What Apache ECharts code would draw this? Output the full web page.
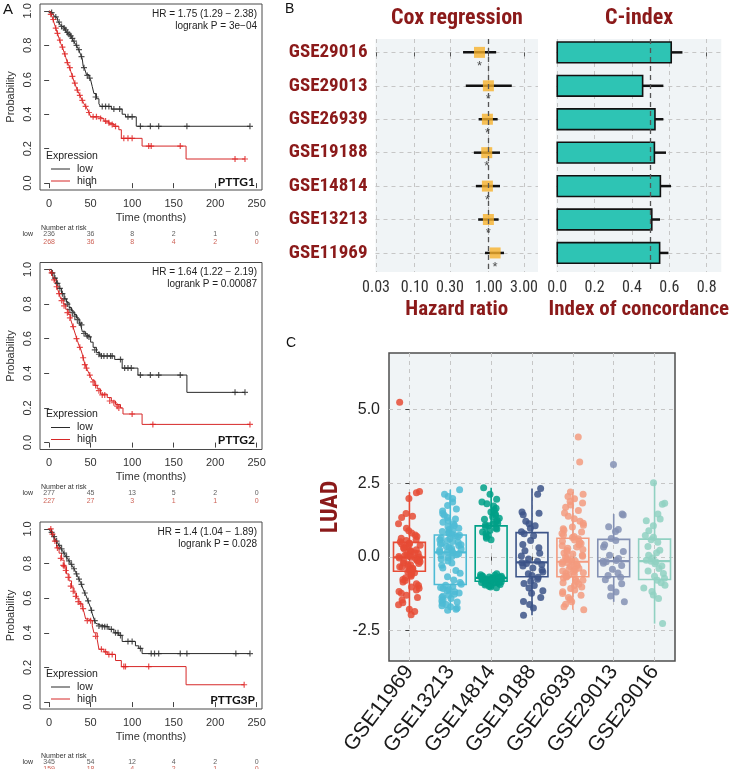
<!DOCTYPE html>
<html><head><meta charset="utf-8">
<script src="https://cdn.jsdelivr.net/npm/echarts@6/dist/echarts.min.js"></script>
<style>html,body{margin:0;padding:0;background:#fff}#c{width:730px;height:769px}</style>
</head><body><div id="c"></div>
<script>
// ---------------- DATA ----------------
const TIME_TICKS = [0, 50, 100, 150, 200, 250];
const PROB_TICKS = [0, 0.2, 0.4, 0.6, 0.8, 1.0];

// PTTG1
const km1Low = [[0,1],[2,0.99],[4,0.98],[6,0.97],[8,0.96],[10,0.945],[12,0.93],[14,0.915],[16,0.905],[18,0.895],[20,0.885],[22,0.87],[24,0.86],[26,0.85],[28,0.835],[30,0.82],[32,0.805],[34,0.79],[36,0.77],[38,0.745],[40,0.72],[41,0.68],[43,0.66],[45,0.63],[48,0.615],[50,0.6],[52,0.56],[54,0.52],[57,0.49],[60,0.46],[62,0.445],[75,0.43],[88,0.4],[92,0.385],[105,0.33],[242,0.33]];
const km1LowCens = [[3,0.99],[8,0.965],[12,0.935],[15,0.91],[18,0.9],[20,0.89],[22,0.875],[24,0.865],[26,0.855],[28,0.84],[30,0.825],[33,0.8],[36,0.775],[39,0.735],[42,0.67],[46,0.625],[49,0.61],[56,0.5],[64,0.445],[68,0.445],[72,0.445],[78,0.43],[85,0.43],[95,0.385],[100,0.385],[110,0.33],[122,0.33],[132,0.33],[166,0.33],[242,0.33]];
const km1High = [[0,1],[2,0.98],[4,0.96],[6,0.93],[8,0.9],[10,0.87],[12,0.84],[14,0.81],[16,0.79],[18,0.76],[20,0.73],[22,0.7],[24,0.68],[26,0.65],[28,0.62],[30,0.59],[32,0.565],[34,0.54],[36,0.52],[38,0.5],[40,0.48],[42,0.46],[44,0.445],[46,0.43],[48,0.41],[50,0.385],[60,0.375],[66,0.36],[72,0.345],[78,0.33],[84,0.31],[87,0.26],[112,0.215],[165,0.14],[236,0.14]];
const km1HighCens = [[2,0.98],[5,0.95],[8,0.9],[10,0.87],[13,0.83],[16,0.79],[19,0.75],[22,0.7],[25,0.67],[28,0.62],[31,0.58],[34,0.54],[37,0.51],[40,0.48],[44,0.445],[48,0.41],[53,0.385],[57,0.385],[62,0.375],[68,0.36],[72,0.35],[76,0.34],[80,0.33],[90,0.26],[95,0.26],[100,0.26],[120,0.215],[123,0.215],[158,0.215],[224,0.14],[236,0.14]];
const risk1Low = [236, 36, 8, 2, 1, 0];
const risk1High = [268, 36, 8, 4, 2, 0];

// PTTG2
const km2Low = [[0,1],[3,0.98],[6,0.95],[9,0.92],[12,0.89],[15,0.86],[18,0.83],[21,0.81],[24,0.78],[27,0.76],[30,0.74],[33,0.72],[36,0.7],[38,0.68],[40,0.64],[44,0.62],[47,0.61],[50,0.58],[53,0.55],[57,0.52],[61,0.5],[79,0.48],[88,0.43],[107,0.39],[166,0.29],[236,0.29]];
const km2LowCens = [[4,0.98],[7,0.95],[10,0.92],[13,0.89],[16,0.86],[19,0.83],[22,0.8],[25,0.77],[28,0.75],[31,0.73],[34,0.71],[37,0.69],[39,0.68],[42,0.63],[46,0.615],[48,0.61],[55,0.535],[60,0.51],[63,0.5],[66,0.5],[70,0.5],[74,0.5],[76,0.5],[86,0.48],[91,0.43],[95,0.43],[99,0.43],[110,0.39],[122,0.39],[132,0.39],[158,0.39],[224,0.29],[236,0.29]];
const km2High = [[0,1],[2,0.98],[4,0.96],[6,0.94],[8,0.92],[10,0.89],[12,0.86],[14,0.83],[17,0.8],[20,0.77],[23,0.74],[26,0.71],[28,0.68],[30,0.65],[32,0.62],[34,0.59],[36,0.56],[38,0.54],[40,0.51],[42,0.47],[44,0.44],[46,0.42],[48,0.4],[50,0.38],[52,0.36],[55,0.33],[58,0.31],[62,0.28],[70,0.26],[75,0.24],[80,0.22],[86,0.2],[89,0.165],[112,0.105],[242,0.105]];
const km2HighCens = [[3,0.98],[6,0.94],[9,0.9],[12,0.86],[15,0.82],[18,0.79],[22,0.75],[25,0.72],[29,0.67],[33,0.6],[37,0.55],[41,0.49],[43,0.45],[45,0.43],[49,0.39],[53,0.35],[56,0.33],[60,0.3],[64,0.275],[67,0.275],[73,0.24],[78,0.23],[82,0.21],[84,0.2],[100,0.165],[125,0.105],[242,0.105]];
const risk2Low = [277, 45, 13, 5, 2, 0];
const risk2High = [227, 27, 3, 1, 1, 0];

// PTTG3P
const km3Low = [[0,1],[2,0.98],[4,0.965],[6,0.95],[8,0.935],[10,0.92],[12,0.905],[14,0.89],[16,0.875],[18,0.86],[20,0.845],[22,0.83],[24,0.815],[26,0.8],[28,0.785],[30,0.77],[32,0.75],[34,0.73],[36,0.71],[38,0.69],[40,0.665],[42,0.64],[44,0.62],[46,0.595],[48,0.57],[50,0.545],[52,0.51],[54,0.48],[56,0.455],[58,0.445],[62,0.435],[72,0.42],[78,0.4],[84,0.385],[88,0.35],[104,0.325],[108,0.31],[112,0.28],[242,0.28]];
const km3LowCens = [[3,0.98],[6,0.955],[9,0.93],[12,0.905],[15,0.885],[18,0.86],[21,0.84],[24,0.815],[27,0.795],[30,0.77],[33,0.74],[36,0.71],[39,0.68],[43,0.63],[47,0.585],[51,0.53],[55,0.47],[60,0.44],[64,0.435],[67,0.435],[70,0.435],[75,0.42],[80,0.4],[83,0.4],[86,0.385],[95,0.35],[100,0.35],[110,0.31],[123,0.28],[127,0.28],[132,0.28],[158,0.28],[166,0.28],[225,0.28],[242,0.28]];
const km3High = [[0,1],[3,0.97],[6,0.93],[9,0.89],[12,0.86],[15,0.82],[18,0.78],[21,0.74],[24,0.7],[27,0.66],[30,0.63],[33,0.6],[36,0.57],[40,0.545],[42,0.52],[44,0.48],[48,0.47],[52,0.44],[54,0.4],[58,0.36],[60,0.305],[66,0.29],[70,0.275],[80,0.24],[87,0.205],[165,0.1],[235,0.1]];
const km3HighCens = [[2,1.0],[4,0.97],[7,0.93],[10,0.89],[14,0.83],[17,0.79],[18,0.785],[20,0.76],[23,0.72],[26,0.67],[29,0.64],[32,0.61],[35,0.58],[38,0.565],[41,0.54],[46,0.47],[50,0.47],[56,0.38],[63,0.305],[68,0.29],[72,0.275],[76,0.275],[90,0.205],[92,0.205],[120,0.205],[235,0.1]];
const risk3Low = [345, 54, 12, 4, 2, 0];
const risk3High = [159, 18, 4, 2, 1, 0];

const kmGenes = ['PTTG1', 'PTTG2', 'PTTG3P'];
const kmHR = ['HR = 1.75 (1.29 \u2212 2.38)', 'HR = 1.64 (1.22 \u2212 2.19)', 'HR = 1.4 (1.04 \u2212 1.89)'];
const kmP = ['logrank P = 3e\u221204', 'logrank P = 0.00087', 'logrank P = 0.028'];

// Panel B
const coxRows = ['GSE29016', 'GSE29013', 'GSE26939', 'GSE19188', 'GSE14814', 'GSE13213', 'GSE11969'];
const coxHR = [0.75, 0.99, 0.96, 0.94, 0.96, 0.99, 1.22];
const coxLo = [0.45, 0.49, 0.73, 0.63, 0.67, 0.72, 0.89];
const coxHi = [1.26, 2.05, 1.32, 1.42, 1.42, 1.36, 1.61];
const hrTicks = [0.03, 0.1, 0.3, 1, 3];
const cIndex = [0.61, 0.457, 0.523, 0.52, 0.552, 0.506, 0.548];
const cIndexUp = [0.67, 0.568, 0.568, 0.582, 0.609, 0.55, 0.595];
const cTicks = [0, 0.2, 0.4, 0.6, 0.8];

// Panel C
const groups = ['GSE11969', 'GSE13213', 'GSE14814', 'GSE19188', 'GSE26939', 'GSE29013', 'GSE29016'];
const whiskLow = [-1.93, -1.82, -1.05, -1.99, -1.8, -1.53, -2.27];
const boxQ1 = [-0.49, -0.94, -0.83, -0.68, -0.68, -0.68, -0.77];
const boxMed = [-0.02, 0.15, -0.72, -0.19, -0.17, -0.15, -0.15];
const boxQ3 = [0.49, 0.74, 1.05, 0.82, 0.63, 0.59, 0.6];
const whiskHigh = [2.2, 2.28, 2.34, 2.32, 2.2, 1.45, 2.51];
const luadTicks = [-2.5, 0, 2.5, 5];
const pts11969 = [5.25,2.22,2.17,1.98,1.47,1.33,1.38,1.12,0.97,0.88,0.81,0.74,0.69,0.63,0.58,0.55,0.51,0.47,0.44,0.43,0.39,0.36,0.33,0.31,0.27,0.24,0.21,0.19,0.16,0.13,0.11,0.07,0.05,0.03,0.01,-0.01,-0.02,-0.04,-0.06,-0.09,-0.11,-0.13,-0.14,-0.17,-0.21,-0.23,-0.26,-0.27,-0.31,-0.34,-0.36,-0.39,-0.41,-0.44,-0.47,-0.49,-0.51,-0.54,-0.58,-0.62,-0.66,-0.71,-0.77,-0.81,-0.86,-0.92,-0.98,-1.03,-1.07,-1.13,-1.18,-1.24,-1.31,-1.38,-1.47,-1.56,-1.63,-1.78,-1.86,-1.97];
const pts13213 = [2.28,2.12,2.05,1.98,1.86,1.74,1.62,1.55,1.47,1.41,1.33,1.28,1.22,1.17,1.11,1.06,1.02,0.97,0.93,0.89,0.86,0.82,0.79,0.76,0.73,0.71,0.68,0.64,0.61,0.58,0.55,0.52,0.49,0.46,0.43,0.41,0.38,0.35,0.32,0.29,0.26,0.23,0.2,0.17,0.15,0.13,0.1,0.07,0.04,0.01,-0.03,-0.08,-0.14,-0.21,-0.29,-0.38,-0.47,-0.56,-0.68,-0.79,-0.87,-0.93,-0.97,-1.01,-1.04,-1.08,-1.12,-1.15,-1.19,-1.23,-1.27,-1.31,-1.34,-1.38,-1.42,-1.46,-1.5,-1.54,-1.58,-1.62,-1.66,-1.7,-1.74,-1.78,-1.82];
const pts14814 = [2.34,2.12,1.95,1.86,1.8,1.72,1.65,1.58,1.52,1.47,1.41,1.36,1.31,1.27,1.22,1.18,1.14,1.11,1.08,1.05,1.02,0.98,0.94,0.89,0.84,0.79,0.73,0.68,0.63,0.58,-0.58,-0.61,-0.63,-0.65,-0.66,-0.67,-0.68,-0.69,-0.7,-0.71,-0.72,-0.72,-0.73,-0.74,-0.75,-0.76,-0.77,-0.78,-0.79,-0.8,-0.81,-0.82,-0.83,-0.84,-0.85,-0.86,-0.87,-0.88,-0.9,-0.92,-0.94,-0.96,-0.98,-1.0,-1.03,-1.05];
const pts19188 = [2.32,2.12,1.52,1.43,1.48,1.21,1.12,1.05,0.97,0.85,0.78,0.71,0.55,0.42,0.31,0.2,0.12,0.03,-0.08,-0.15,-0.2,-0.23,-0.26,-0.31,-0.38,-0.45,-0.52,-0.58,-0.64,-0.7,-0.76,-0.83,-0.91,-0.98,-1.06,-1.15,-1.24,-1.38,-1.52,-1.62,-1.74,-1.99];
const pts26939 = [4.07,3.22,2.2,2.12,2.05,1.97,1.88,1.83,1.76,1.68,1.57,1.49,1.38,1.29,1.21,1.14,1.07,1.01,0.95,0.9,0.84,0.79,0.74,0.69,0.65,0.61,0.57,0.53,0.49,0.45,0.41,0.37,0.33,0.29,0.25,0.21,0.17,0.13,0.09,0.05,0.02,-0.02,-0.05,-0.08,-0.11,-0.14,-0.16,-0.18,-0.21,-0.24,-0.27,-0.3,-0.33,-0.36,-0.39,-0.42,-0.45,-0.48,-0.51,-0.54,-0.57,-0.6,-0.63,-0.66,-0.69,-0.72,-0.76,-0.8,-0.84,-0.88,-0.93,-0.98,-1.03,-1.08,-1.13,-1.19,-1.25,-1.31,-1.38,-1.45,-1.53,-1.61,-1.7,-1.8];
const pts29013 = [3.13,1.45,1.42,1.02,0.93,0.86,0.62,0.55,0.41,0.33,0.18,0.05,-0.06,-0.13,-0.15,-0.17,-0.22,-0.3,-0.42,-0.55,-0.64,-0.7,-0.78,-0.92,-1.05,-1.2,-1.33,-1.53];
const pts29016 = [2.51,1.82,1.78,1.45,1.28,1.22,1.05,0.88,0.72,0.66,0.58,0.49,0.35,0.22,0.14,0.05,-0.04,-0.12,-0.15,-0.18,-0.24,-0.31,-0.4,-0.48,-0.57,-0.66,-0.73,-0.8,-0.88,-0.97,-1.06,-1.18,-1.3,-1.42,-2.27];
const groupPoints = [pts11969, pts13213, pts14814, pts19188, pts26939, pts29013, pts29016];
const groupColors = ['#E64B35', '#4DBBD5', '#00A087', '#3C5488', '#F39B7F', '#8491B4', '#91D1C2'];

// ---------------- STYLE ----------------
const SANS = '"Liberation Sans", Arial, Helvetica, sans-serif';
const NARROW = '"Roboto Condensed", "Open Sans Condensed", sans-serif';
const DARKRED = '#8B1A1A';
const KM_BLACK = '#2a2a2a';
const KM_RED = '#d62828';
const GRIDLINE = {show: true, lineStyle: {type: [4, 4], color: '#c6c6c6', width: 1}};
const PLUS = 'path://M4,0H6V4H10V6H6V10H4V6H0V4H4Z';

const grids = [], xAxes = [], yAxes = [], series = [], graphics = [];

// ---------------- PANEL A ----------------
const KM = [
  {low: km1Low, high: km1High, lowC: km1LowCens, highC: km1HighCens, rLow: risk1Low, rHigh: risk1High},
  {low: km2Low, high: km2High, lowC: km2LowCens, highC: km2HighCens, rLow: risk2Low, rHigh: risk2High},
  {low: km3Low, high: km3High, lowC: km3LowCens, highC: km3HighCens, rLow: risk3Low, rHigh: risk3High}
];
const KM_TOPS = [4, 262.5, 522];
const KM_H = [186, 187, 187];
const RISK_TOPS = [230, 489, 758.5];
const RISK_H = [16, 16, 14];

KM.forEach((d, k) => {
  const top = KM_TOPS[k];
  const gi = grids.length;
  grids.push({left: 40, top: top, width: 222, height: KM_H[k], show: true, borderColor: '#4a4a4a', borderWidth: 1, backgroundColor: 'transparent', outerBoundsMode: 'none'});
  xAxes.push({gridIndex: gi, type: 'value', min: -11, max: 256.5,
    axisLine: {show: false},
    axisTick: {show: true, customValues: TIME_TICKS, length: 5, lineStyle: {color: '#444'}},
    axisLabel: {customValues: TIME_TICKS, fontSize: 11, color: '#333', margin: 8, fontFamily: SANS},
    splitLine: {show: false},
    name: 'Time (months)', nameLocation: 'middle', nameGap: 22,
    nameTextStyle: {fontSize: 11, color: '#333', fontFamily: SANS}});
  yAxes.push({gridIndex: gi, type: 'value', min: -0.04, max: 1.04,
    axisLine: {show: false},
    axisTick: {show: true, customValues: PROB_TICKS, length: 5, lineStyle: {color: '#444'}},
    axisLabel: {customValues: PROB_TICKS, rotate: 90, fontSize: 11, color: '#333', margin: 7, fontFamily: SANS, formatter: v => v.toFixed(1)},
    splitLine: {show: false},
    name: 'Probability', nameLocation: 'middle', nameGap: 24,
    nameTextStyle: {fontSize: 11, color: '#333', fontFamily: SANS}});
  series.push({type: 'line', xAxisIndex: gi, yAxisIndex: gi, data: d.low, step: 'end', showSymbol: false, silent: true, lineStyle: {color: KM_BLACK, width: 1}, z: 3});
  series.push({type: 'line', xAxisIndex: gi, yAxisIndex: gi, data: d.high, step: 'end', showSymbol: false, silent: true, lineStyle: {color: KM_RED, width: 1}, z: 3});
  series.push({type: 'scatter', xAxisIndex: gi, yAxisIndex: gi, data: d.lowC, symbol: PLUS, symbolSize: 6, itemStyle: {color: KM_BLACK}, silent: true, z: 4});
  series.push({type: 'scatter', xAxisIndex: gi, yAxisIndex: gi, data: d.highC, symbol: PLUS, symbolSize: 6, itemStyle: {color: '#e02020'}, silent: true, z: 4});

  // risk table
  const ri = grids.length;
  grids.push({left: 40, top: RISK_TOPS[k], width: 222, height: RISK_H[k], outerBoundsMode: 'none'});
  xAxes.push({gridIndex: ri, type: 'value', min: -11, max: 256.5, show: false});
  yAxes.push({gridIndex: ri, type: 'category', data: ['low', 'high'], inverse: true,
    axisLine: {show: false}, axisTick: {show: false}, splitLine: {show: false},
    axisLabel: {fontSize: 7, margin: 7, fontFamily: SANS, color: (v) => v === 'high' ? '#c0392b' : '#333'}});
  const riskLabel = (c) => ({show: true, position: 'inside', formatter: p => String(p.data[2]), fontSize: 7, color: c, fontFamily: SANS});
  series.push({type: 'scatter', xAxisIndex: ri, yAxisIndex: ri, symbolSize: 0.01, itemStyle: {color: 'rgba(0,0,0,0)'}, silent: true,
    data: TIME_TICKS.map((t, i) => [t, 'low', d.rLow[i]]), label: riskLabel('#333')});
  series.push({type: 'scatter', xAxisIndex: ri, yAxisIndex: ri, symbolSize: 0.01, itemStyle: {color: 'rgba(0,0,0,0)'}, silent: true,
    data: TIME_TICKS.map((t, i) => [t, 'high', d.rHigh[i]]), label: riskLabel('#c0392b')});

  // texts / legend
  const txt = (x, y, text, opt) => ({type: 'text', x: x, y: y, silent: true, style: Object.assign({text: text, fill: '#222', fontSize: 10, fontFamily: SANS, align: 'left', verticalAlign: 'middle'}, opt || {})});
  graphics.push(txt(257, top + 10, kmHR[k], {align: 'right'}));
  graphics.push(txt(257, top + 22, kmP[k], {align: 'right'}));
  graphics.push(txt(46, top + 152, 'Expression', {fontSize: 10.5}));
  graphics.push({type: 'line', silent: true, shape: {x1: 51, y1: top + 165, x2: 70, y2: top + 165}, style: {stroke: KM_BLACK, lineWidth: 1}});
  graphics.push(txt(77, top + 165, 'low', {fontSize: 10.5}));
  graphics.push({type: 'line', silent: true, shape: {x1: 51, y1: top + 177, x2: 70, y2: top + 177}, style: {stroke: KM_RED, lineWidth: 1}});
  graphics.push(txt(77, top + 177, 'high', {fontSize: 10.5}));
  graphics.push(txt(255, top + 178, kmGenes[k], {align: 'right', fontWeight: 'bold', fontSize: 12, fontFamily: 'Lato, "Liberation Sans", sans-serif', fill: '#111'}));
  graphics.push(txt(41, RISK_TOPS[k] - 2, 'Number at risk', {fontSize: 7, fill: '#333'}));
});

// ---------------- PANEL B ----------------
const log10 = Math.log10;
const rowIdx = [0, 1, 2, 3, 4, 5, 6];
// Cox regression
const ci = grids.length;
grids.push({left: 375.5, top: 39, width: 162.5, height: 233, show: true, backgroundColor: '#F0F4F6', borderColor: 'transparent', borderWidth: 0, outerBoundsMode: 'none'});
xAxes.push({gridIndex: ci, type: 'value', min: -1.53, max: 0.666,
  axisLine: {show: false},
  axisTick: {show: true, customValues: hrTicks.map(log10), length: 4, lineStyle: {color: '#555'}},
  axisLabel: {customValues: hrTicks.map(log10), formatter: v => Math.pow(10, v).toFixed(2), fontSize: 16, color: '#333', fontFamily: NARROW, margin: 8},
  splitLine: GRIDLINE,
  name: 'Hazard ratio', nameLocation: 'middle', nameGap: 27,
  nameTextStyle: {fontSize: 21, fontWeight: 'bold', color: DARKRED, fontFamily: NARROW}});
yAxes.push({gridIndex: ci, type: 'value', inverse: true, min: -0.4, max: 6.57,
  axisLine: {show: false},
  axisTick: {show: true, customValues: rowIdx, length: 4, lineStyle: {color: '#555'}},
  axisLabel: {customValues: rowIdx, formatter: v => coxRows[Math.round(v)], fontSize: 19, fontWeight: 'bold', color: DARKRED, fontFamily: NARROW, margin: 8},
  splitLine: GRIDLINE});
series.push({type: 'custom', xAxisIndex: ci, yAxisIndex: ci, silent: true, z: 3,
  data: coxRows.map((r, i) => [log10(coxLo[i]), i, log10(coxHi[i])]),
  encode: {x: [0, 2], y: 1},
  renderItem: (params, api) => {
    const a = api.coord([api.value(0), api.value(1)]);
    const b = api.coord([api.value(2), api.value(1)]);
    return {type: 'line', shape: {x1: a[0], y1: a[1], x2: b[0], y2: b[1]}, style: {stroke: '#111', lineWidth: 2.5}};
  }});
series.push({type: 'scatter', xAxisIndex: ci, yAxisIndex: ci, silent: true, z: 4,
  data: coxRows.map((r, i) => [log10(coxHR[i]), i]),
  symbol: 'rect', symbolSize: 11, itemStyle: {color: '#F8B12C'},
  label: {show: true, formatter: '*', position: 'bottom', distance: 2, fontSize: 13, color: '#222', fontFamily: SANS},
  markLine: {symbol: 'none', silent: true, label: {show: false}, lineStyle: {type: [5, 4], color: '#555', width: 1.3},
    data: [{xAxis: 0}]}});

// C-index
const cix = grids.length;
grids.push({left: 556.3, top: 39, width: 165, height: 233, show: true, backgroundColor: '#F0F4F6', borderColor: 'transparent', borderWidth: 0, outerBoundsMode: 'none'});
xAxes.push({gridIndex: cix, type: 'value', min: -0.005, max: 0.878,
  axisLine: {show: false},
  axisTick: {show: true, customValues: cTicks, length: 4, lineStyle: {color: '#555'}},
  axisLabel: {customValues: cTicks, formatter: v => v.toFixed(1), fontSize: 16, color: '#333', fontFamily: NARROW, margin: 8},
  splitLine: GRIDLINE,
  name: 'Index of concordance', nameLocation: 'middle', nameGap: 27,
  nameTextStyle: {fontSize: 21, fontWeight: 'bold', color: DARKRED, fontFamily: NARROW}});
yAxes.push({gridIndex: cix, type: 'value', inverse: true, min: -0.4, max: 6.57,
  axisLine: {show: false},
  axisTick: {show: false, customValues: rowIdx},
  axisLabel: {show: false},
  splitLine: GRIDLINE});
series.push({type: 'custom', xAxisIndex: cix, yAxisIndex: cix, silent: true, z: 3,
  data: coxRows.map((r, i) => [cIndex[i], i, cIndexUp[i]]),
  encode: {x: [0, 2], y: 1},
  renderItem: (params, api) => {
    const y = api.value(1);
    const p0 = api.coord([0, y]);
    const p1 = api.coord([api.value(0), y]);
    const p2 = api.coord([api.value(2), y]);
    const h = api.size([0, 1])[1] * 0.62;
    return {type: 'group', children: [
      {type: 'line', shape: {x1: p1[0], y1: p1[1], x2: p2[0], y2: p2[1]}, style: {stroke: '#111', lineWidth: 2.5}},
      {type: 'rect', shape: {x: p0[0], y: p0[1] - h / 2, width: p1[0] - p0[0], height: h}, style: {fill: '#2EC4B4', stroke: '#111', lineWidth: 1.6}}
    ]};
  },
  markLine: {symbol: 'none', silent: true, label: {show: false}, lineStyle: {type: [5, 4], color: '#555', width: 1.3},
    data: [{xAxis: 0.5}]}});

// ---------------- PANEL C ----------------
const bi = grids.length;
grids.push({left: 389, top: 353, width: 286, height: 308, show: true, backgroundColor: '#F0F4F6', borderColor: '#4d4d4d', borderWidth: 1.5, outerBoundsMode: 'none'});
xAxes.push({gridIndex: bi, type: 'category', data: groups,
  jitter: 22, jitterOverlap: true,
  axisLine: {show: false},
  axisTick: {show: true, alignWithLabel: true, length: 4, lineStyle: {color: '#444'}},
  axisLabel: {interval: 0, rotate: 53, fontSize: 21, color: '#1a1a1a', margin: 7, fontFamily: SANS},
  splitLine: {show: false}});
yAxes.push({gridIndex: bi, type: 'value', min: -3.54, max: 6.92,
  axisLine: {show: false},
  axisTick: {show: true, customValues: luadTicks, length: 4, lineStyle: {color: '#444'}},
  axisLabel: {customValues: luadTicks, formatter: v => v.toFixed(1), fontSize: 16, color: '#222', margin: 9, fontFamily: SANS},
  splitLine: GRIDLINE,
  name: 'LUAD', nameLocation: 'middle', nameGap: 46,
  nameTextStyle: {fontSize: 24, fontWeight: 'bold', color: DARKRED, fontFamily: NARROW}});
series.push({type: 'custom', xAxisIndex: bi, yAxisIndex: bi, silent: true, z: 3,
  data: groups.map((g, i) => [i, whiskLow[i], boxQ1[i], boxMed[i], boxQ3[i], whiskHigh[i]]),
  encode: {x: 0, y: [1, 2, 3, 4, 5]},
  renderItem: (params, api) => {
    const i = api.value(0);
    const c = groupColors[i];
    const w = api.size([1, 0])[0] * 0.78;
    const lo = api.coord([i, api.value(1)]), q1 = api.coord([i, api.value(2)]), md = api.coord([i, api.value(3)]),
          q3 = api.coord([i, api.value(4)]), hi = api.coord([i, api.value(5)]);
    const st = {stroke: c, lineWidth: 1.6, fill: 'none'};
    return {type: 'group', children: [
      {type: 'line', shape: {x1: lo[0], y1: lo[1], x2: q1[0], y2: q1[1]}, style: st},
      {type: 'line', shape: {x1: q3[0], y1: q3[1], x2: hi[0], y2: hi[1]}, style: st},
      {type: 'rect', shape: {x: q3[0] - w / 2, y: q3[1], width: w, height: q1[1] - q3[1]}, style: st},
      {type: 'line', shape: {x1: md[0] - w / 2, y1: md[1], x2: md[0] + w / 2, y2: md[1]}, style: {stroke: c, lineWidth: 2.2}}
    ]};
  }});
groupPoints.forEach((vals, i) => {
  series.push({type: 'scatter', xAxisIndex: bi, yAxisIndex: bi, silent: true, z: 4,
    data: vals.map(v => [groups[i], v]), symbolSize: 7,
    itemStyle: {color: groupColors[i], opacity: 0.85}});
});
// vertical dashed guide lines at group centres
xAxes.push({gridIndex: bi, type: 'value', min: -0.5, max: 6.5, position: 'top',
  axisLine: {show: false}, axisLabel: {show: false},
  axisTick: {show: false, customValues: [0, 1, 2, 3, 4, 5, 6]},
  splitLine: GRIDLINE});

// ---------------- TITLES ----------------
const T = (x, y, text, opt) => ({type: 'text', x: x, y: y, silent: true, style: Object.assign({text: text, fill: '#111', fontSize: 15, fontFamily: SANS, align: 'left', verticalAlign: 'top'}, opt || {})});
graphics.push(T(3, 2, 'A'));
graphics.push(T(285, 2, 'B', {fontSize: 14}));
graphics.push(T(286, 336, 'C', {fontSize: 14}));
graphics.push(T(457, 18, 'Cox regression', {fontSize: 22, fontWeight: 'bold', fill: DARKRED, fontFamily: NARROW, align: 'center', verticalAlign: 'middle'}));
graphics.push(T(639, 18, 'C-index', {fontSize: 22, fontWeight: 'bold', fill: DARKRED, fontFamily: NARROW, align: 'center', verticalAlign: 'middle'}));

const chart = echarts.init(document.getElementById('c'), null, {renderer: 'canvas'});
chart.setOption({
  animation: false,
  backgroundColor: '#ffffff',
  grid: grids,
  xAxis: xAxes,
  yAxis: yAxes,
  series: series,
  graphic: graphics
});
</script></body></html>
